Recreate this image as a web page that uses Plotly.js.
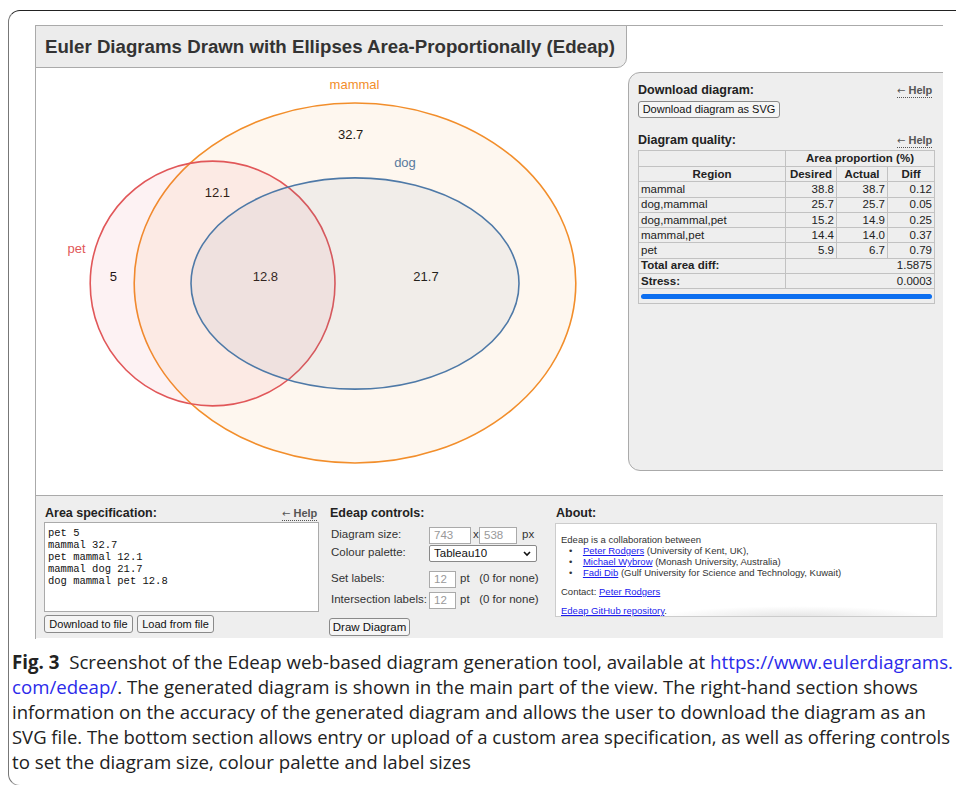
<!DOCTYPE html>
<html><head><meta charset="utf-8">
<script src="https://cdn.plot.ly/plotly-3.0.1.min.js"></script>
<style>
body{margin:0;width:956px;height:785px;overflow:hidden;background:#fff;position:relative;font-family:"Liberation Sans",Arial,sans-serif;color:#222;}
.a{position:absolute;white-space:nowrap;}
#frame{position:absolute;left:8px;top:10px;width:1000px;height:774px;border-top:1.5px solid #222;border-left:1.5px solid #777;border-bottom:1px solid #999;border-radius:12px 0 0 12px;}
#shot{position:absolute;left:0;top:0;width:943px;height:639px;overflow:hidden;}
.btn{position:absolute;box-sizing:border-box;border:1px solid #8a8a8a;border-radius:3px;background:#f5f5f5;font-size:11px;text-align:center;color:#111;}
.inp{position:absolute;box-sizing:border-box;border:1px solid #aaa;background:#fff;font-size:11.5px;color:#999;padding-left:4px;}
.lbl{position:absolute;white-space:nowrap;font-size:11.5px;color:#333;}
.hd{position:absolute;white-space:nowrap;font-size:12.5px;font-weight:bold;color:#222;}
.help{position:absolute;white-space:nowrap;font-size:11px;font-weight:bold;color:#555;border-bottom:1px dotted #555;line-height:12px;}
.help span{font-family:"DejaVu Sans",sans-serif;font-weight:normal;font-size:10px;}
table.q{position:absolute;left:638px;top:150px;width:297px;border-collapse:collapse;font-size:11.5px;color:#222;}
table.q td{border:1px solid #c2c2c2;padding:0 2px;height:14.3px;line-height:13px;}
.cap{position:absolute;white-space:nowrap;font-family:"Open Sans","Noto Sans",sans-serif;font-size:19px;color:#222;line-height:22px;transform-origin:left center;}
.cap a{color:#2b2bea;text-decoration:none;}
#about a{color:#1a1aee;text-decoration:underline;}
</style></head>
<body>
<div id="frame"></div>
<div id="shot">
  <div class="a" style="left:35px;top:25px;width:910px;height:613px;border-top:1px solid #aaa;border-left:1px solid #aaa;border-bottom:1px solid #bbb;"></div>
  <div class="a" style="left:35px;top:25px;width:590px;height:41px;background:#ececec;border-right:1px solid #aaa;border-bottom:1px solid #aaa;border-left:1px solid #aaa;border-top:1px solid #aaa;border-bottom-right-radius:10px;"></div>
  <div class="a" id="title" style="left:45px;top:36px;font-size:18px;font-weight:bold;color:#333;line-height:22px;transform-origin:left center;">Euler Diagrams Drawn with Ellipses Area-Proportionally (Edeap)</div>
  <div id="chart" class="a" style="left:35px;top:67px;width:593px;height:428px;"></div>
  <div class="a" style="left:628px;top:72px;width:340px;height:397px;background:#eee;border:1px solid #aaa;border-radius:12px;"></div>
  <div class="hd" style="left:638px;top:83px;">Download diagram:</div>
  <div class="help" style="left:897px;top:84px;"><span>&#8592;</span> Help</div>
  <div class="btn" style="left:638px;top:101px;width:142px;height:17px;line-height:15px;">Download diagram as SVG</div>
  <div class="hd" style="left:638px;top:133px;">Diagram quality:</div>
  <div class="help" style="left:897px;top:134px;"><span>&#8592;</span> Help</div>
  <table class="q" id="qtab"></table>
  <div class="a" style="left:35px;top:495px;width:910px;height:142px;background:#eee;border-top:1px solid #aaa;border-left:1px solid #aaa;"></div>
  <div class="hd" style="left:45px;top:506px;">Area specification:</div>
  <div class="help" style="left:282px;top:507px;"><span>&#8592;</span> Help</div>
  <div class="a" id="spec" style="left:44px;top:522px;width:275px;height:90px;box-sizing:border-box;background:#fff;border:1px solid #aaa;font-family:'Liberation Mono','Courier New',monospace;font-size:10.5px;line-height:12px;padding:4px 0 0 3px;color:#111;white-space:pre;"></div>
  <div class="btn" style="left:44px;top:615px;width:89px;height:18px;line-height:16px;">Download to file</div>
  <div class="btn" style="left:137px;top:615px;width:77px;height:18px;line-height:16px;">Load from file</div>

  <div class="hd" style="left:330px;top:506px;">Edeap controls:</div>
  <div class="lbl" style="left:331px;top:528px;">Diagram size:</div>
  <div class="inp" style="left:429px;top:527px;width:42px;height:17px;line-height:15px;">743</div>
  <div class="lbl" style="left:473px;top:528px;">x</div>
  <div class="inp" style="left:479px;top:527px;width:38px;height:17px;line-height:15px;">538</div>
  <div class="lbl" style="left:522px;top:528px;">px</div>
  <div class="lbl" style="left:331px;top:546px;">Colour palette:</div>
  <div class="inp" style="left:429px;top:545px;width:108px;height:17px;line-height:15px;color:#111;border-color:#888;border-radius:2px;">Tableau10<svg style="position:absolute;right:5px;top:5px;" width="8" height="6"><path d="M1 1 L4 4 L7 1" fill="none" stroke="#111" stroke-width="1.6"/></svg></div>
  <div class="lbl" style="left:331px;top:572px;">Set labels:</div>
  <div class="inp" style="left:429px;top:571px;width:27px;height:17px;line-height:15px;">12</div>
  <div class="lbl" style="left:460px;top:572px;">pt&nbsp;&nbsp; (0 for none)</div>
  <div class="lbl" style="left:331px;top:593px;">Intersection labels:</div>
  <div class="inp" style="left:429px;top:592px;width:27px;height:17px;line-height:15px;">12</div>
  <div class="lbl" style="left:460px;top:593px;">pt&nbsp;&nbsp; (0 for none)</div>
  <div class="btn" style="left:329px;top:618px;width:81px;height:18px;line-height:16px;font-size:11.5px;">Draw Diagram</div>

  <div class="hd" style="left:556px;top:506px;">About:</div>
  <div id="about" class="a" style="left:555px;top:523px;width:382px;height:94px;box-sizing:border-box;background:#fff;border:1px solid #ccc;font-size:9.5px;color:#333;line-height:11px;overflow:hidden;">
    <div class="a" style="left:5px;top:10px;">Edeap is a collaboration between</div>
    <div class="a" style="left:13px;top:21px;">&bull;&nbsp;&nbsp;&nbsp;&nbsp;<a>Peter Rodgers</a> (University of Kent, UK),</div>
    <div class="a" style="left:13px;top:32px;">&bull;&nbsp;&nbsp;&nbsp;&nbsp;<a>Michael Wybrow</a> (Monash University, Australia)</div>
    <div class="a" style="left:13px;top:43px;">&bull;&nbsp;&nbsp;&nbsp;&nbsp;<a>Fadi Dib</a> (Gulf University for Science and Technology, Kuwait)</div>
    <div class="a" style="left:5px;top:62px;">Contact: <a>Peter Rodgers</a></div>
    <div class="a" style="left:5px;top:81px;"><a>Edeap GitHub repository</a>.</div>
    <div class="a" style="left:100px;top:82px;width:280px;height:12px;background:radial-gradient(ellipse at 50% 100%,rgba(190,190,190,0.45),rgba(255,255,255,0) 70%);"></div>
  </div>
</div>
<div class="cap" id="c1" style="left:12px;top:651px;"><b>Fig. 3</b>&nbsp; Screenshot of the Edeap web-based diagram generation tool, available at <a>https://www.eulerdiagrams.</a></div>
<div class="cap" id="c2" style="left:12px;top:676px;"><a>com/edeap/</a>. The generated diagram is shown in the main part of the view. The right-hand section shows</div>
<div class="cap" id="c3" style="left:12px;top:701px;">information on the accuracy of the generated diagram and allows the user to download the diagram as an</div>
<div class="cap" id="c4" style="left:12px;top:726px;">SVG file. The bottom section allows entry or upload of a custom area specification, as well as offering controls</div>
<div class="cap" id="c5" style="left:12px;top:751px;">to set the diagram size, colour palette and label sizes</div>

<script>
// ---- Euler diagram data (Edeap diagram units, 743 x 538 canvas) ----
const setNames = ['pet', 'mammal', 'dog'];
const setCx = [222, 400, 400];
const setCy = [270.6, 270, 270.6];
const setRx = [153, 276, 205];
const setRy = [153, 225, 132];
const setLabelX = [52, 399.4, 462.5];
const setLabelY = [229, 23.75, 121];
const setColors = ['#e15759', '#f28e2b', '#4e79a7'];

const regionSets = ['pet', 'mammal', 'pet mammal', 'mammal dog', 'dog mammal pet'];
const regionValues = [5, 32.7, 12.1, 21.7, 12.8];
const regionX = [98, 394.6, 228, 488.75, 288];
const regionY = [263.75, 86.25, 158, 263.75, 263.75];

// ---- Diagram quality table ----
const qualityRegions = ['mammal', 'dog,mammal', 'dog,mammal,pet', 'mammal,pet', 'pet'];
const desiredPct = [38.8, 25.7, 15.2, 14.4, 5.9];
const actualPct = [38.7, 25.7, 14.9, 14.0, 6.7];
const diffPct = [0.12, 0.05, 0.25, 0.37, 0.79];
const totalAreaDiff = '1.5875';
const stressValue = '0.0003';

function hexA(h, a) {
  const r = parseInt(h.slice(1,3),16), g = parseInt(h.slice(3,5),16), b = parseInt(h.slice(5,7),16);
  return `rgba(${r},${g},${b},${a})`;
}

const order = [1, 0, 2];
const shapes = order.map(i => ({
  type: 'circle', xref: 'x', yref: 'y',
  x0: setCx[i] - setRx[i], x1: setCx[i] + setRx[i],
  y0: setCy[i] - setRy[i], y1: setCy[i] + setRy[i],
  fillcolor: hexA(setColors[i], 0.075),
  line: {color: setColors[i], width: 1.6}
}));

const traces = [
  {
    type: 'scatter', mode: 'text', x: setLabelX, y: setLabelY, text: setNames,
    textfont: {family: 'Liberation Sans, Arial, sans-serif', size: 13, color: setColors},
    hoverinfo: 'skip', showlegend: false
  },
  {
    type: 'scatter', mode: 'text', x: regionX, y: regionY, text: regionValues.map(String),
    textfont: {family: 'Liberation Sans, Arial, sans-serif', size: 13, color: '#111'},
    hoverinfo: 'skip', showlegend: false
  }
];

const layout = {
  width: 593, height: 428,
  margin: {l: 0, r: 0, t: 0, b: 0},
  paper_bgcolor: 'rgba(0,0,0,0)', plot_bgcolor: 'rgba(0,0,0,0)',
  xaxis: {range: [0, 741.25], visible: false, fixedrange: true},
  yaxis: {range: [535, 0], visible: false, fixedrange: true},
  shapes: shapes,
  showlegend: false
};
Plotly.newPlot('chart', traces, layout, {staticPlot: true, displayModeBar: false});

document.getElementById('spec').textContent =
  regionSets.map((s, i) => s + ' ' + regionValues[i]).join('\n');

const tb = document.getElementById('qtab');
let html = '<tr><td style="height:15px"></td><td colspan="3" style="text-align:center;font-weight:bold;">Area proportion (%)</td></tr>';
html += '<tr><td style="text-align:center;font-weight:bold;width:142px">Region</td><td style="text-align:center;font-weight:bold;width:46px">Desired</td><td style="text-align:center;font-weight:bold;width:46px">Actual</td><td style="text-align:center;font-weight:bold;">Diff</td></tr>';
qualityRegions.forEach((r, i) => {
  html += `<tr><td>${r}</td><td style="text-align:right">${desiredPct[i].toFixed(1)}</td><td style="text-align:right">${actualPct[i].toFixed(1)}</td><td style="text-align:right">${diffPct[i].toFixed(2)}</td></tr>`;
});
html += `<tr><td style="font-weight:bold">Total area diff:</td><td colspan="3" style="text-align:right">${totalAreaDiff}</td></tr>`;
html += `<tr><td style="font-weight:bold">Stress:</td><td colspan="3" style="text-align:right">${stressValue}</td></tr>`;
html += '<tr><td colspan="4" style="height:14px;padding:0 2px;"><div style="height:5px;border-radius:3px;background:#0d6ff0;"></div></td></tr>';
tb.innerHTML = html;

function fit(id, w) {
  const el = document.getElementById(id);
  const r = el.getBoundingClientRect().width;
  el.style.transform = `scaleX(${w / r})`;
}
fit('title', 570);
fit('c1', 941);
fit('c2', 906);
fit('c3', 914);
fit('c4', 938);
fit('c5', 459);
</script>
</body></html>
